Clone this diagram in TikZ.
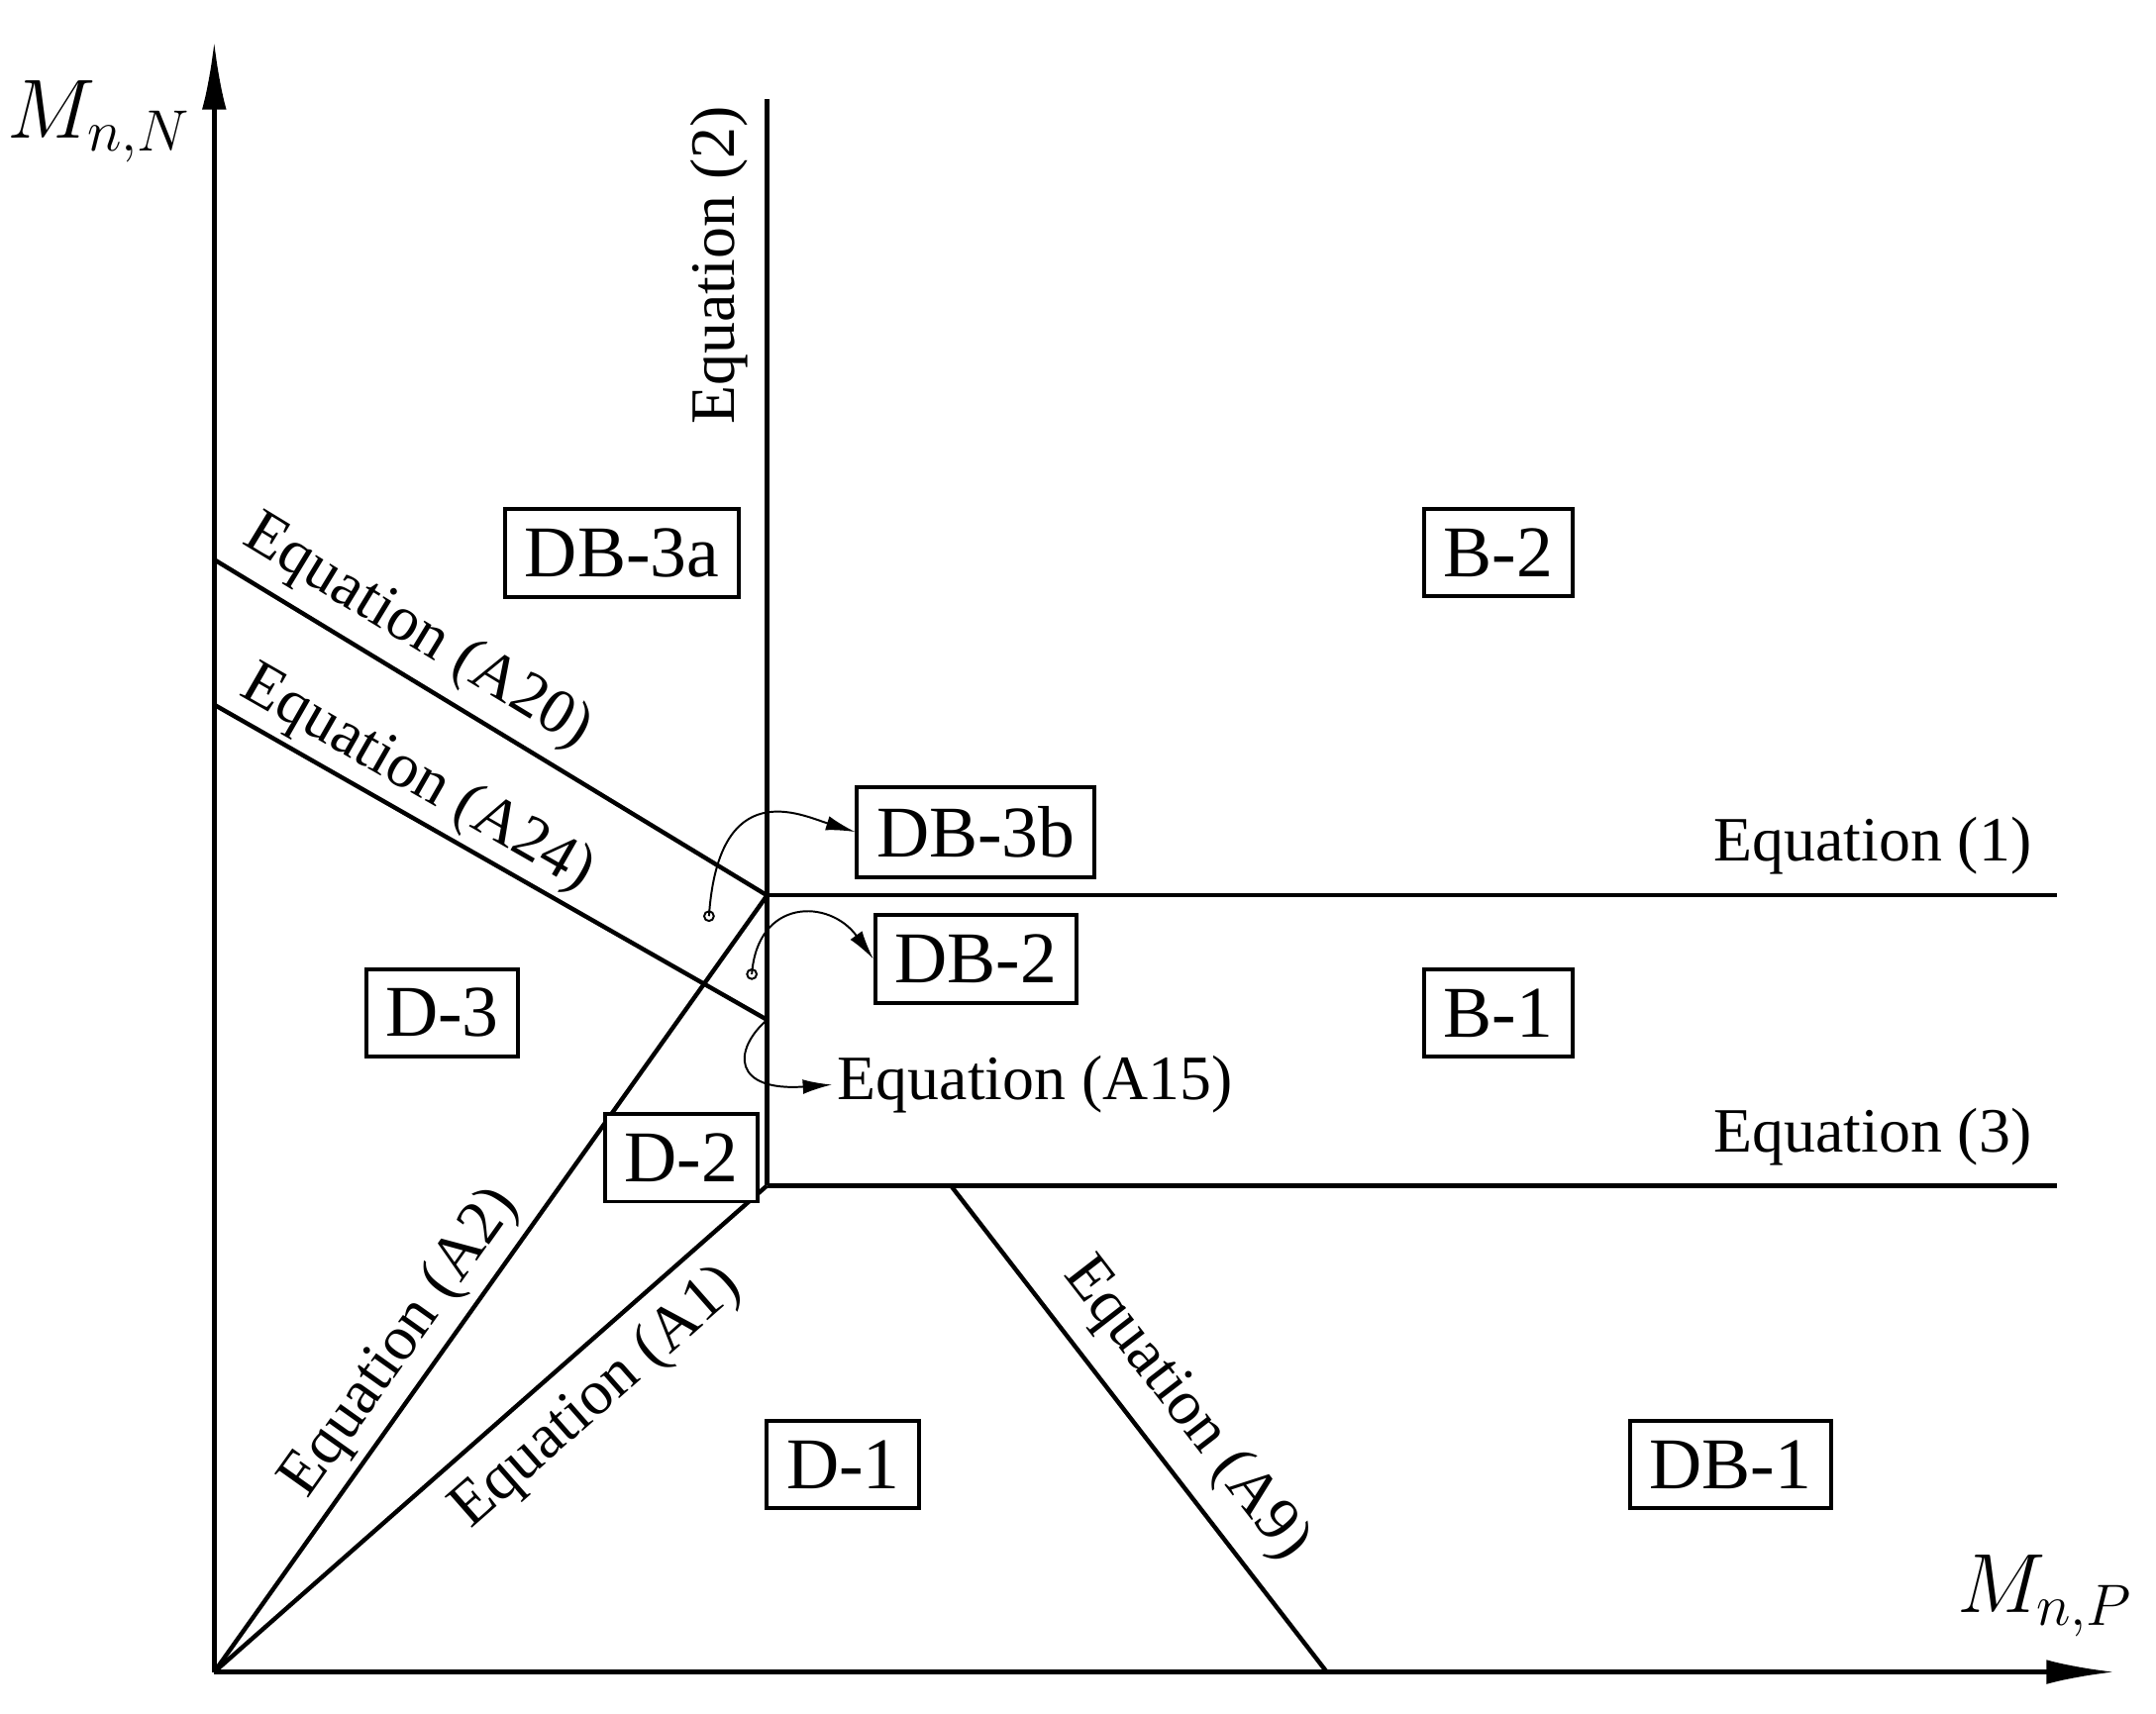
\documentclass[tikz,border=0pt]{standalone}
\usepackage{fontspec}
\setmainfont{Liberation Serif}
\usetikzlibrary{arrows.meta,positioning,calc}
\tikzset{
  region/.style={draw,thick,fill=white,inner sep=4pt,font=\fontsize{15}{17}\selectfont},
  eqlabel/.style={font=\fontsize{13}{15}\selectfont,inner sep=1pt},
  bound/.style={line width=0.9pt},
  pointer/.style={thin,-{Latex[length=6pt,width=3pt]}},
}
\begin{document}
\begin{tikzpicture}[x=0.01cm,y=-0.01cm]
\useasboundingbox (0,0) rectangle (1560,1240);
% corner points
\coordinate (O) at (155,1210);
\coordinate (ytop) at (155,30);
\coordinate (xend) at (1530,1210);
\coordinate (T) at (555,648);
\coordinate (S) at (555,858);
\coordinate (V) at (555,72);
\coordinate (E1) at (1488,648);
\coordinate (E3) at (1488,858);
\coordinate (P20) at (155,405);
\coordinate (P24) at (155,510);
\coordinate (Q24) at (555,738);
\coordinate (A9a) at (688,858);
\coordinate (A9b) at (960,1210);
% axes
\draw[bound,-{Latex[length=14pt,width=5pt]}] (O) -- (ytop);
\draw[bound,-{Latex[length=14pt,width=5pt]}] (O) -- (xend);
\node[eqlabel,font=\fontsize{17}{19}\selectfont] (mN) at (72,88) {$M_{n,N}$};
\node[eqlabel,font=\fontsize{17}{19}\selectfont] (mP) at (1480,1155) {$M_{n,P}$};
% boundaries
\draw[bound] (V) -- (S);
\draw[bound] (T) -- (E1);
\draw[bound] (S) -- (E3);
\draw[bound] (P20) -- (T);
\draw[bound] (P24) -- (Q24);
\draw[bound] (O) -- (T);
\draw[bound] (O) -- (S);
\draw[bound] (A9a) -- (A9b);
% equation labels
\node[eqlabel,rotate=90] (eq2) at (520,192) {Equation (2)};
\node[eqlabel] (eq1) at (1355,612) {Equation (1)};
\node[eqlabel] (eq3) at (1355,823) {Equation (3)};
\node[eqlabel,rotate=-31.3] (a20) at (302,458) {Equation (A20)};
\node[eqlabel,rotate=-29.8] (a24) at (302,564) {Equation (A24)};
\node[eqlabel,rotate=54.6] (a2) at (290,972) {Equation (A2)};
\node[eqlabel,rotate=41.3] (a1) at (432,1012) {Equation (A1)};
\node[eqlabel,rotate=-52.3] (a9) at (858,1020) {Equation (A9)};
\node[eqlabel,anchor=west] (a15) at (602,785) {Equation (A15)};
% regions
\node[region] (db3a) at (450,400) {DB-3a};
\node[region] (b2) at (1084,400) {B-2};
\node[region] (db3b) at (706,602) {DB-3b};
\node[region] (db2) at (706,694) {DB-2};
\node[region] (d3) at (320,733) {D-3};
\node[region] (b1) at (1084,733) {B-1};
\node[region] (d2) at (493,838) {D-2};
\node[region] (d1) at (610,1060) {D-1};
\node[region] (db1) at (1252,1060) {DB-1};
% pointers
\coordinate (c1) at (513,663);
\coordinate (c2) at (544,705);
\draw[thin,fill=white] (c1) circle (3.5);
\draw[thin,fill=white] (c2) circle (3.5);
\draw[pointer] (c1) .. controls (520,560) and (580,590) .. (db3b.west);
\draw[pointer] (c2) .. controls (548,650) and (600,650) .. (db2.west);
\draw[pointer] (Q24) .. controls (530,760) and (530,790) .. (a15.west);
\end{tikzpicture}
\end{document}
